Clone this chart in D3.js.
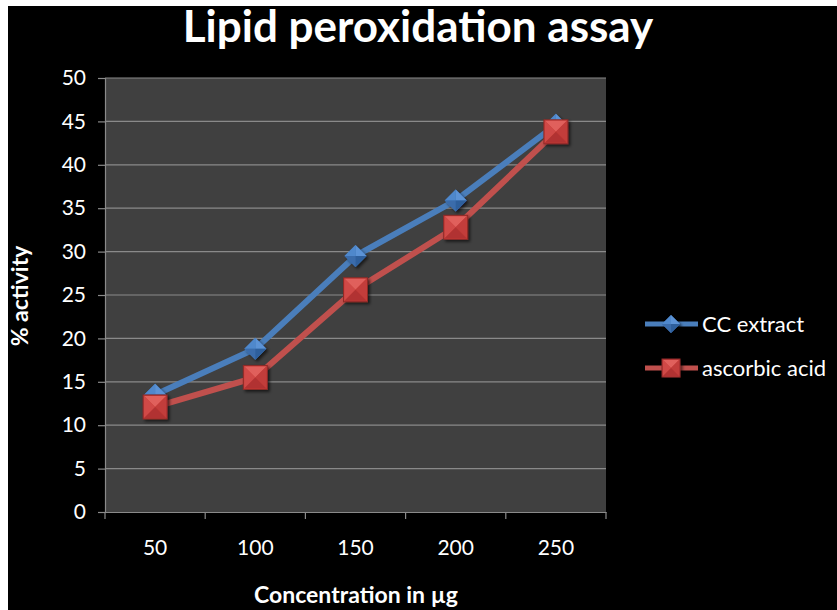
<!DOCTYPE html>
<html>
<head>
<meta charset="utf-8">
<script src="https://cdn.jsdelivr.net/npm/d3@7"></script>
<style>
  body { margin: 0; background: #fff; }
  svg { display: block; }
  text { font-family: Lato, "Open Sans", sans-serif; fill: #fff; }
</style>
</head>
<body>
<svg width="837" height="610"></svg>
<script>
const categories = ['50', '100', '150', '200', '250'];
const ccExtract = [13.5, 18.8, 29.5, 35.9, 44.6];
const ascorbicAcid = [12.1, 15.5, 25.6, 32.8, 43.8];
const yTicks = [0, 5, 10, 15, 20, 25, 30, 35, 40, 45, 50];
const seriesNames = ['CC extract', 'ascorbic acid'];

(function() {
	const svg = d3.select('svg');
	const width = +svg.attr('width');
	const height = +svg.attr('height');

	// black chart area, with the thin white margin of the screenshot
	svg.append('rect')
		.attr('x', 8).attr('y', 6)
		.attr('width', width - 8).attr('height', height - 6)
		.attr('fill', '#000');

	const plot = { left: 105, top: 78, right: 606, bottom: 512 };

	const x = d3.scaleBand().domain(categories).range([plot.left, plot.right]);
	const y = d3.scaleLinear().domain([0, 50]).range([plot.bottom, plot.top]);

	const defs = svg.append('defs');
	const shadow = defs.append('filter').attr('id', 'shadow')
		.attr('x', '-50%').attr('y', '-50%').attr('width', '200%').attr('height', '200%');
	shadow.append('feDropShadow')
		.attr('dx', 2).attr('dy', 2).attr('stdDeviation', 1.5)
		.attr('flood-color', '#000').attr('flood-opacity', 0.6);

	svg.append('rect')
		.attr('x', plot.left).attr('y', plot.top)
		.attr('width', plot.right - plot.left).attr('height', plot.bottom - plot.top)
		.attr('fill', '#404040');

	// grid lines
	svg.append('g')
		.selectAll('line')
		.data(yTicks.filter(d => d > 0))
		.join('line')
		.attr('x1', plot.left).attr('x2', plot.right)
		.attr('y1', d => y(d)).attr('y2', d => y(d))
		.attr('stroke', '#8a8a8a').attr('stroke-width', 1.2);

	// y axis
	const yAxis = svg.append('g')
		.attr('transform', `translate(${plot.left},0)`)
		.call(d3.axisLeft(y).tickValues(yTicks).tickSize(7).tickPadding(12));
	yAxis.select('.domain').attr('stroke', '#8a8a8a').attr('stroke-width', 1.2);
	yAxis.selectAll('.tick line').attr('stroke', '#8a8a8a').attr('stroke-width', 1.2);
	yAxis.selectAll('.tick text')
		.attr('fill', '#fff').attr('font-size', 21).attr('font-family', 'Lato, sans-serif');

	// x axis, ticks between the categories
	const xAxis = svg.append('g')
		.attr('transform', `translate(0,${plot.bottom})`)
		.call(d3.axisBottom(x).tickSize(0).tickPadding(28));
	xAxis.select('.domain').attr('stroke', '#8a8a8a').attr('stroke-width', 1.2);
	xAxis.selectAll('.tick text')
		.attr('fill', '#fff').attr('font-size', 21).attr('font-family', 'Lato, sans-serif');
	const bounds = categories.map(c => x(c)).concat([x(categories[categories.length - 1]) + x.bandwidth()]);
	svg.append('g').selectAll('line')
		.data(bounds)
		.join('line')
		.attr('x1', d => d).attr('x2', d => d)
		.attr('y1', plot.bottom).attr('y2', plot.bottom + 7)
		.attr('stroke', '#8a8a8a').attr('stroke-width', 1.2);

	// lines
	const cx = c => x(c) + x.bandwidth() / 2;
	const line = d3.line().x(d => cx(d.c)).y(d => y(d.v));
	const blueData = categories.map((c, i) => ({ c, v: ccExtract[i] }));
	const redData = categories.map((c, i) => ({ c, v: ascorbicAcid[i] }));

	svg.append('path').datum(blueData)
		.attr('d', line).attr('fill', 'none')
		.attr('stroke', '#4a7ebb').attr('stroke-width', 6).attr('stroke-linejoin', 'round');
	svg.append('path').datum(redData)
		.attr('d', line).attr('fill', 'none')
		.attr('stroke', '#c0504d').attr('stroke-width', 6).attr('stroke-linejoin', 'round');

	function diamond(g, s) {
		g.attr('filter', 'url(#shadow)');
		g.append('path').attr('d', `M0,${-s}L${s},0L0,${s}L${-s},0Z`).attr('fill', '#3f73b4');
		g.append('path').attr('d', `M0,${-s}L${s},0L0,0Z`).attr('fill', '#5b93d6');
		g.append('path').attr('d', `M0,${-s}L${-s},0L0,0Z`).attr('fill', '#4f88cc');
		g.append('path').attr('d', `M${-s},0L0,${s}L0,0Z`).attr('fill', '#3a6cab');
		g.append('path').attr('d', `M${s},0L0,${s}L0,0Z`).attr('fill', '#2f5f9c');
	}
	function square(g, s) {
		g.attr('filter', 'url(#shadow)');
		g.append('rect').attr('x', -s).attr('y', -s).attr('width', 2 * s).attr('height', 2 * s)
			.attr('fill', '#c83a38').attr('stroke', '#8e2a28').attr('stroke-width', 1);
		g.append('path').attr('d', `M${-s + 1},${-s + 1}L${s - 1},${-s + 1}L0,0Z`).attr('fill', '#e0605c');
		g.append('path').attr('d', `M${-s + 1},${-s + 1}L${-s + 1},${s - 1}L0,0Z`).attr('fill', '#d04a47');
		g.append('path').attr('d', `M${s - 1},${-s + 1}L${s - 1},${s - 1}L0,0Z`).attr('fill', '#c23d3a');
		g.append('path').attr('d', `M${-s + 1},${s - 1}L${s - 1},${s - 1}L0,0Z`).attr('fill', '#b13331');
	}

	svg.append('g').selectAll('g')
		.data(blueData)
		.join('g')
		.attr('transform', d => `translate(${cx(d.c)},${y(d.v)})`)
		.each(function() { diamond(d3.select(this), 11); });
	svg.append('g').selectAll('g')
		.data(redData)
		.join('g')
		.attr('transform', d => `translate(${cx(d.c)},${y(d.v)})`)
		.each(function() { square(d3.select(this), 12); });

	// title and axis titles
	svg.append('text')
		.attr('x', 418).attr('y', 42)
		.attr('text-anchor', 'middle')
		.attr('font-size', 44).attr('font-weight', 'bold')
		.text('Lipid peroxidation assay');

	svg.append('text')
		.attr('x', 356).attr('y', 603)
		.attr('text-anchor', 'middle')
		.attr('font-size', 23).attr('font-weight', 'bold')
		.text('Concentration in µg');

	svg.append('text')
		.attr('transform', 'translate(28,296) rotate(-90)')
		.attr('text-anchor', 'middle')
		.attr('font-size', 23).attr('font-weight', 'bold')
		.text('% activity');

	// legend
	const legend = svg.append('g').attr('transform', 'translate(645,324)');
	const items = legend.selectAll('g')
		.data(seriesNames)
		.join('g')
		.attr('transform', (d, i) => `translate(0,${i * 44})`);
	items.append('line')
		.attr('x1', 0).attr('x2', 53)
		.attr('stroke', (d, i) => i === 0 ? '#4a7ebb' : '#c0504d')
		.attr('stroke-width', 5);
	items.each(function(d, i) {
		const m = d3.select(this).append('g').attr('transform', 'translate(26,0)');
		if (i === 0) diamond(m, 9); else square(m, 9);
	});
	items.append('text')
		.attr('x', 57).attr('dy', '0.35em')
		.attr('font-size', 22)
		.text(d => d);
})()
</script>
</body>
</html>
